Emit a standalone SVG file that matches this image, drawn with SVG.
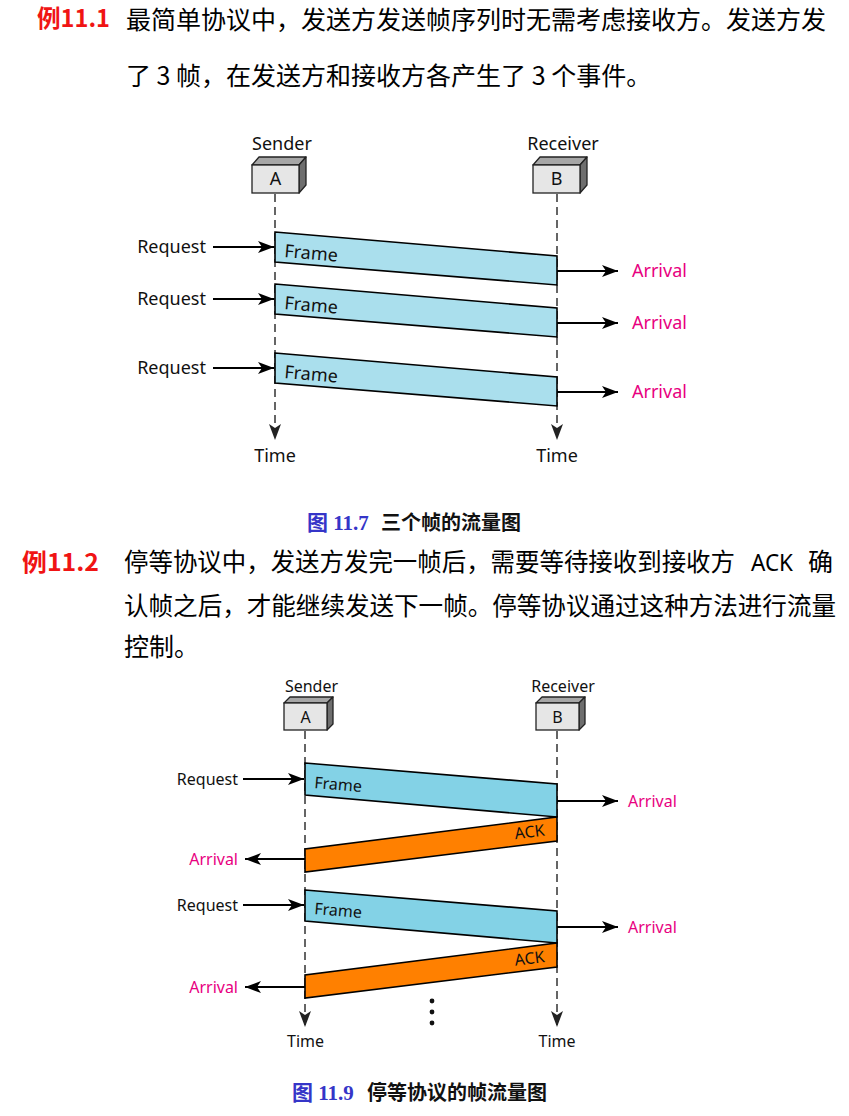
<svg xmlns="http://www.w3.org/2000/svg" width="849" height="1116" viewBox="0 0 849 1116">
<style>
.body{font-family:"Noto Sans CJK SC","Noto Sans",sans-serif;font-size:25px;fill:#000}
.lat{font-family:"Noto Sans","Liberation Sans",sans-serif;font-size:24px;fill:#000}
.ex{font-family:"Noto Sans CJK SC","Noto Sans",sans-serif;font-size:24px;font-weight:bold;fill:#f01414}
.cap{font-family:"Liberation Serif","Noto Sans CJK SC",serif;font-size:21px;font-weight:bold}
.capn{fill:#3535c8}
.capt{fill:#111;font-family:"Noto Sans CJK SC",sans-serif;font-size:20px}
.lbl1{font-family:"Noto Sans","Liberation Sans",sans-serif;font-size:18px;fill:#111}
.lbl2{font-family:"Noto Sans","Liberation Sans",sans-serif;font-size:16px;fill:#111}
.arr{fill:#e8007f}
.life{stroke:#333;stroke-width:1.5;stroke-dasharray:8 5;fill:none}
.ar{stroke:#000;stroke-width:2;fill:none}
.front{fill:#e6e6e6;stroke:#222;stroke-width:1.3}
.top{fill:#a6a6a6;stroke:#222;stroke-width:1.3;stroke-linejoin:round}
.side{fill:#6e6e6e;stroke:#222;stroke-width:1.3;stroke-linejoin:round}
.fr1{fill:#aadfed;stroke:#000;stroke-width:1.6}
.fr2{fill:#83d2e6;stroke:#000;stroke-width:1.6}
.ack{fill:#ff8000;stroke:#000;stroke-width:1.6}
</style>
<defs>
<marker id="ah" markerUnits="userSpaceOnUse" markerWidth="20" markerHeight="14" refX="16" refY="6" orient="auto" overflow="visible">
<path d="M16,6 L0,0 L4,6 L0,12 Z" fill="#000"/>
</marker>
<marker id="ahl" markerUnits="userSpaceOnUse" markerWidth="20" markerHeight="14" refX="16" refY="6" orient="auto" overflow="visible">
<path d="M16,6 L0,0 L4,6 L0,12 Z" fill="#222"/>
</marker>
</defs>

<!-- Paragraph texts -->
<g id="para1">
<text class="ex" x="37" y="27" textLength="73" lengthAdjust="spacingAndGlyphs">例11.1</text>
<text class="body" x="126" y="29" textLength="700" lengthAdjust="spacingAndGlyphs">最简单协议中，发送方发送帧序列时无需考虑接收方。发送方发</text>
<text class="body" x="126" y="85">了 3 帧，在发送方和接收方各产生了 3 个事件。</text>
</g>

<!-- Diagram 1 -->
<g id="d1-lifelines">
<line class="life" x1="275" y1="194" x2="275" y2="440" marker-end="url(#ahl)"/>
<line class="life" x1="557" y1="194" x2="557" y2="440" marker-end="url(#ahl)"/>
</g>
<g id="d1-nodeA">
<text class="lbl1" x="282" y="150" text-anchor="middle">Sender</text>
<polygon class="top" points="252,165 259,157 306,157 299,165"/>
<polygon class="side" points="299,165 306,157 306,185 299,193"/>
<rect class="front" x="252" y="165" width="47" height="28"/>
<text class="lbl1" x="275.5" y="185" text-anchor="middle">A</text>
</g>
<g id="d1-nodeB">
<text class="lbl1" x="563" y="150" text-anchor="middle">Receiver</text>
<polygon class="top" points="533,165 540,157 587,157 580,165"/>
<polygon class="side" points="580,165 587,157 587,185 580,193"/>
<rect class="front" x="533" y="165" width="47" height="28"/>
<text class="lbl1" x="556.5" y="185" text-anchor="middle">B</text>
</g>
<g id="d1-frames">
<polygon class="fr1" points="275,232 557,256 557,285 275,262"/>
<text class="lbl1" x="284" y="257" transform="rotate(4.86 284 257)">Frame</text>
<polygon class="fr1" points="275,284 557,308 557,337 275,314"/>
<text class="lbl1" x="284" y="309" transform="rotate(4.86 284 309)">Frame</text>
<polygon class="fr1" points="275,353 557,377 557,406 275,383"/>
<text class="lbl1" x="284" y="378" transform="rotate(4.86 284 378)">Frame</text>
</g>
<g id="d1-connectors">
<line class="ar" x1="213" y1="247" x2="274" y2="247" marker-end="url(#ah)"/>
<line class="ar" x1="213" y1="299" x2="274" y2="299" marker-end="url(#ah)"/>
<line class="ar" x1="213" y1="368" x2="274" y2="368" marker-end="url(#ah)"/>
<line class="ar" x1="557" y1="271" x2="618" y2="271" marker-end="url(#ah)"/>
<line class="ar" x1="557" y1="323" x2="618" y2="323" marker-end="url(#ah)"/>
<line class="ar" x1="557" y1="392" x2="618" y2="392" marker-end="url(#ah)"/>
</g>
<g id="d1-labels">
<text class="lbl1" x="206" y="253" text-anchor="end">Request</text>
<text class="lbl1" x="206" y="305" text-anchor="end">Request</text>
<text class="lbl1" x="206" y="374" text-anchor="end">Request</text>
<text class="lbl1 arr" x="632" y="277">Arrival</text>
<text class="lbl1 arr" x="632" y="329">Arrival</text>
<text class="lbl1 arr" x="632" y="398">Arrival</text>
<text class="lbl1" x="275" y="462" text-anchor="middle">Time</text>
<text class="lbl1" x="557" y="462" text-anchor="middle">Time</text>
</g>
<g id="cap1">
<text class="cap" x="307" y="530"><tspan class="capn">图 11.7</tspan><tspan class="capt" x="381">三个帧的流量图</tspan></text>
</g>

<g id="para2">
<text class="ex" x="22" y="571" textLength="77" lengthAdjust="spacingAndGlyphs">例11.2</text>
<text class="body" x="124" y="571" textLength="611" lengthAdjust="spacingAndGlyphs">停等协议中，发送方发完一帧后，需要等待接收到接收方</text>
<text class="lat" x="751" y="571" textLength="42" lengthAdjust="spacingAndGlyphs">ACK</text>
<text class="body" x="808" y="571">确</text>
<text class="body" x="124" y="615" textLength="712" lengthAdjust="spacingAndGlyphs">认帧之后，才能继续发送下一帧。停等协议通过这种方法进行流量</text>
<text class="body" x="124" y="656">控制。</text>
</g>

<!-- Diagram 2 -->
<g id="d2-lifelines">
<line class="life" x1="305" y1="731" x2="305" y2="1027" marker-end="url(#ahl)"/>
<line class="life" x1="557" y1="731" x2="557" y2="1027" marker-end="url(#ahl)"/>
</g>
<g id="d2-nodeA">
<text class="lbl2" x="311.5" y="692" text-anchor="middle">Sender</text>
<polygon class="top" points="284,703 290,697 333,697 327,703"/>
<polygon class="side" points="327,703 333,697 333,724 327,730"/>
<rect class="front" x="284" y="703" width="43" height="27"/>
<text class="lbl2" x="305.5" y="723" text-anchor="middle">A</text>
</g>
<g id="d2-nodeB">
<text class="lbl2" x="563" y="692" text-anchor="middle">Receiver</text>
<polygon class="top" points="536,703 542,697 585,697 579,703"/>
<polygon class="side" points="579,703 585,697 585,724 579,730"/>
<rect class="front" x="536" y="703" width="43" height="27"/>
<text class="lbl2" x="557.5" y="723" text-anchor="middle">B</text>
</g>
<g id="d2-frames">
<polygon class="fr2" points="305,763 557,784 557,817 305,795"/>
<text class="lbl2" x="314" y="788" transform="rotate(4.76 314 788)">Frame</text>
<polygon class="ack" points="557,817 557,841 305,872 305,849"/>
<text class="lbl2" x="545" y="835.5" text-anchor="end" transform="rotate(-7.2 545 835.5)">ACK</text>
<polygon class="fr2" points="305,890 557,911 557,943 305,921"/>
<text class="lbl2" x="314" y="914" transform="rotate(4.76 314 914)">Frame</text>
<polygon class="ack" points="557,943 557,967 305,998 305,975"/>
<text class="lbl2" x="545" y="962" text-anchor="end" transform="rotate(-7.2 545 962)">ACK</text>
<circle cx="432" cy="1001" r="2.4" fill="#111"/>
<circle cx="432" cy="1012" r="2.4" fill="#111"/>
<circle cx="432" cy="1023" r="2.4" fill="#111"/>
</g>
<g id="d2-connectors">
<line class="ar" x1="243" y1="779" x2="304" y2="779" marker-end="url(#ah)"/>
<line class="ar" x1="243" y1="905" x2="304" y2="905" marker-end="url(#ah)"/>
<line class="ar" x1="557" y1="801" x2="618" y2="801" marker-end="url(#ah)"/>
<line class="ar" x1="557" y1="927" x2="618" y2="927" marker-end="url(#ah)"/>
<line class="ar" x1="305" y1="859" x2="245" y2="859" marker-end="url(#ah)"/>
<line class="ar" x1="305" y1="987" x2="245" y2="987" marker-end="url(#ah)"/>
</g>
<g id="d2-labels">
<text class="lbl2" x="238" y="784.5" text-anchor="end">Request</text>
<text class="lbl2" x="238" y="910.5" text-anchor="end">Request</text>
<text class="lbl2 arr" x="628" y="807">Arrival</text>
<text class="lbl2 arr" x="628" y="933">Arrival</text>
<text class="lbl2 arr" x="238" y="865" text-anchor="end">Arrival</text>
<text class="lbl2 arr" x="238" y="993" text-anchor="end">Arrival</text>
<text class="lbl2" x="305.5" y="1047" text-anchor="middle">Time</text>
<text class="lbl2" x="557" y="1047" text-anchor="middle">Time</text>
</g>
<g id="cap2">
<text class="cap" x="292" y="1100"><tspan class="capn">图 11.9</tspan><tspan class="capt" x="367">停等协议的帧流量图</tspan></text>
</g>
</svg>
